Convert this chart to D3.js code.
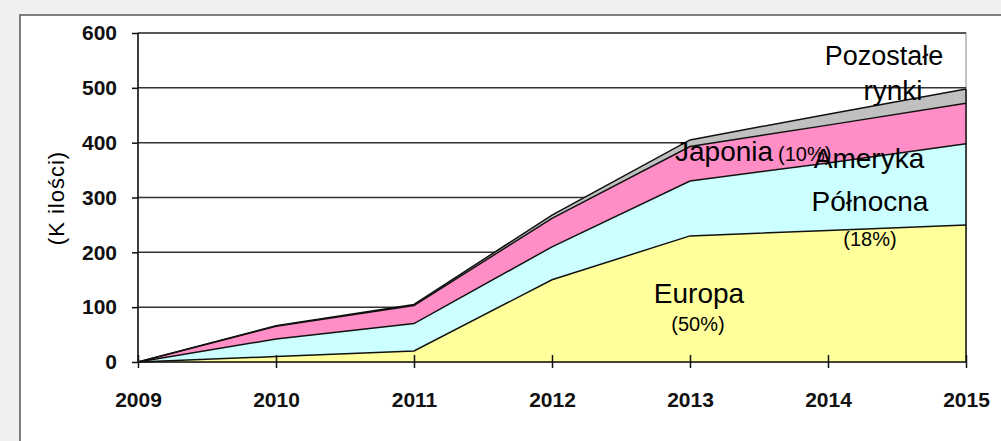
<!DOCTYPE html>
<html lang='pl'>
<head>
	<meta charset='UTF-8'/>
	<title>Rynki - K ilości</title>
	<script src='https://cdn.jsdelivr.net/npm/d3@7'></script>
	<style>
		body {margin: 0; background: #f0f0f0; overflow: hidden;}
		svg {display: block;}
		text {font-family: 'Liberation Sans', Arial, sans-serif; fill: #000;}
		.tick text {font-size: 21px; font-weight: bold; fill: #111;}
	</style>
</head>
<body>
	<div class='graph'></div>
	<script>
		var width = 1001;
		var height = 441;

		// data (K units per region, stacked)
		const years = [2009, 2010, 2011, 2012, 2013, 2014, 2015];
		const europa = [0, 10, 20, 150, 230, 240, 250];
		const ameryka = [0, 32, 50, 60, 100, 123, 148];
		const japonia = [0, 23, 33, 52, 63, 69, 74];
		const pozostale = [0, 1, 2, 6, 12, 20, 26];
		const yTicks = [0, 100, 200, 300, 400, 500, 600];

		const keys = ['europa', 'ameryka', 'japonia', 'pozostale'];
		const colors = {europa: '#ffff9c', ameryka: '#ccffff', japonia: '#ff8ec6', pozostale: '#c0c0c0'};
		const rows = years.map((y, i) => ({
			year: y, europa: europa[i], ameryka: ameryka[i], japonia: japonia[i], pozostale: pozostale[i]
		}));

		var svg = d3.select('.graph')
			.append('svg')
			.attr('width', width)
			.attr('height', height);

		// white panel
		svg.append('rect')
			.attr('x', 20).attr('y', 15)
			.attr('width', width).attr('height', height)
			.style('fill', '#fff')
			.style('stroke', '#555')
			.style('stroke-width', 1.5);

		const X_SCALE = d3.scaleLinear().domain([2009, 2015]).range([138, 966]);
		const Y_SCALE = d3.scaleLinear().domain([0, 600]).range([362, 33]);

		// plot frame
		svg.append('rect')
			.attr('x', X_SCALE(2009)).attr('y', Y_SCALE(600))
			.attr('width', X_SCALE(2015) - X_SCALE(2009))
			.attr('height', Y_SCALE(0) - Y_SCALE(600))
			.style('fill', 'none')
			.style('stroke', '#888')
			.style('stroke-width', 1);

		// gridlines
		svg.append('g')
			.selectAll('line')
			.data(yTicks.filter(d => d > 0))
			.enter()
			.append('line')
			.attr('x1', X_SCALE(2009)).attr('x2', X_SCALE(2015))
			.attr('y1', d => Y_SCALE(d)).attr('y2', d => Y_SCALE(d))
			.style('stroke', '#333')
			.style('stroke-width', 1.5);

		// stacked areas
		const series = d3.stack().keys(keys)(rows);
		const area = d3.area()
			.x(d => X_SCALE(d.data.year))
			.y0(d => Y_SCALE(d[0]))
			.y1(d => Y_SCALE(d[1]));
		const topLine = d3.line()
			.x(d => X_SCALE(d.data.year))
			.y(d => Y_SCALE(d[1]));

		svg.append('g')
			.selectAll('path')
			.data(series)
			.enter()
			.append('path')
			.attr('d', area)
			.style('fill', d => colors[d.key]);

		svg.append('g')
			.selectAll('path')
			.data(series)
			.enter()
			.append('path')
			.attr('d', topLine)
			.style('fill', 'none')
			.style('stroke', '#111')
			.style('stroke-width', 1.5);

		// right closing edge
		const last = series[series.length - 1][years.length - 1];
		svg.append('line')
			.attr('x1', X_SCALE(2015)).attr('x2', X_SCALE(2015))
			.attr('y1', Y_SCALE(0)).attr('y2', Y_SCALE(last[1]))
			.style('stroke', '#111')
			.style('stroke-width', 1.5);

		// axes
		svg.append('g')
			.attr('transform', 'translate(' + X_SCALE(2009) + ', 0)')
			.call(d3.axisLeft(Y_SCALE).tickValues(yTicks).tickSize(6).tickPadding(15).tickFormat(d3.format('d')))
			.call(g => g.selectAll('line, path').style('stroke', '#111').style('stroke-width', 1.5))
			.call(g => g.selectAll('.domain').attr('d', 'M0,' + Y_SCALE(0) + 'V' + Y_SCALE(600)));

		svg.append('g')
			.attr('transform', 'translate(0, ' + Y_SCALE(0) + ')')
			.call(d3.axisBottom(X_SCALE).tickValues(years).tickSize(6).tickPadding(24).tickFormat(d3.format('d')))
			.call(g => g.selectAll('.tick line').attr('y1', -7).style('stroke', '#111').style('stroke-width', 1.5))
			.call(g => g.select('.domain').attr('d', 'M' + X_SCALE(2009) + ',0H' + X_SCALE(2015)).style('stroke', '#111').style('stroke-width', 1.5));

		svg.append('text')
			.attr('transform', 'rotate(-90)')
			.attr('x', -198)
			.attr('y', 64)
			.attr('text-anchor', 'middle')
			.style('font-size', '22px')
			.style('letter-spacing', '1px')
			.text('(K ilości)');

		// in-chart labels: text, x, y, size, anchor
		const labels = [
			['Pozostałe', 884, 65, 27, 'middle'],
			['rynki', 893, 100, 28, 'middle'],
			['Japonia', 675, 161, 28, 'start'],
			['(10%)', 778, 161, 20, 'start'],
			['Ameryka', 869, 168, 28, 'middle'],
			['Północna', 870, 211, 28, 'middle'],
			['(18%)', 870, 246, 20, 'middle'],
			['Europa', 699, 303, 28, 'middle'],
			['(50%)', 698, 331, 20, 'middle']
		];
		svg.append('g')
			.selectAll('text')
			.data(labels)
			.enter()
			.append('text')
			.attr('x', d => d[1])
			.attr('y', d => d[2])
			.attr('text-anchor', d => d[4])
			.style('font-size', d => d[3] + 'px')
			.text(d => d[0]);
	</script>
</body>
</html>
